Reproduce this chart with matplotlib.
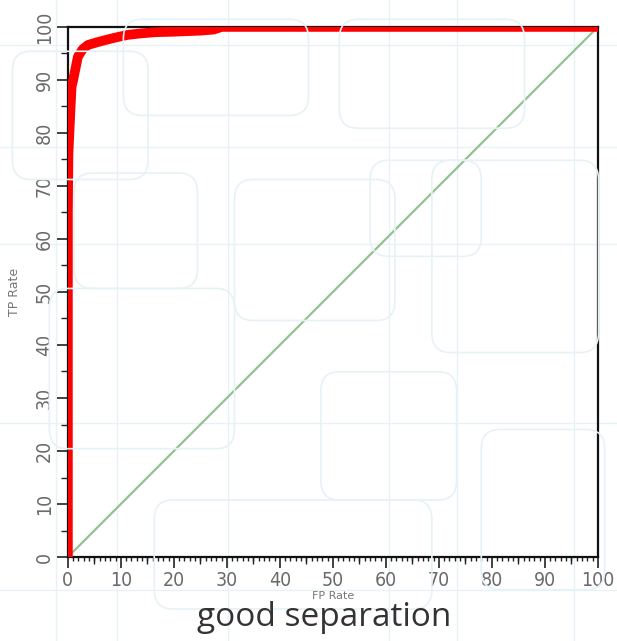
import matplotlib
matplotlib.use('Agg')
import matplotlib.pyplot as plt
from matplotlib.patches import FancyBboxPatch
from matplotlib.ticker import MultipleLocator

# ROC curve (percent)
fp_rate = [0, 0, 0.1, 0.4, 0.7, 1.0, 1.3, 1.9, 2.8, 3.8, 5.5, 7, 9, 11.3, 14, 16.4, 20, 25, 27.5, 29, 31, 100]
tp_rate = [0, 65, 76, 82.5, 88.7, 90, 91.5, 94.4, 95.8, 96.6, 97.1, 97.5, 98, 98.5, 98.8, 99, 99.1, 99.3, 99.5, 100, 100, 100]
chance = [0, 100]
ticks = list(range(0, 101, 10))

fig = plt.figure(figsize=(6.17, 6.41), dpi=100)
fig.patch.set_facecolor('white')

# faint slide background of rounded boxes
bg = '#e6f2f6'
boxes = [(0.02, 0.72, 0.22, 0.20), (0.20, 0.82, 0.30, 0.15), (0.55, 0.80, 0.30, 0.17),
         (0.38, 0.50, 0.26, 0.22), (0.70, 0.45, 0.27, 0.30), (0.08, 0.30, 0.30, 0.25),
         (0.52, 0.22, 0.22, 0.20), (0.25, 0.05, 0.45, 0.17), (0.78, 0.08, 0.20, 0.25),
         (0.12, 0.55, 0.20, 0.18), (0.60, 0.60, 0.18, 0.15)]
for (bx, by, bw, bh) in boxes:
    fig.patches.append(FancyBboxPatch((bx, by), bw, bh, boxstyle='round,pad=0,rounding_size=0.03',
                                      transform=fig.transFigure, fill=False, ec=bg, lw=1.2, zorder=0))
for vx in [0.09, 0.19, 0.37, 0.63, 0.74, 0.93]:
    fig.add_artist(plt.Line2D([vx, vx], [0, 1], transform=fig.transFigure, color=bg, lw=1, zorder=0))
for hy in [0.08, 0.34, 0.62, 0.77, 0.93]:
    fig.add_artist(plt.Line2D([0, 1], [hy, hy], transform=fig.transFigure, color=bg, lw=1, zorder=0))

ax = fig.add_axes([0.110, 0.131, 0.859, 0.827])
ax.patch.set_alpha(0)

ax.plot(chance, chance, color='#93c193', lw=1.6, zorder=2)
ax.plot(fp_rate, tp_rate, color='#ff0000', lw=7, solid_capstyle='round', solid_joinstyle='round', zorder=3)

ax.set_xlim(0, 100)
ax.set_ylim(0, 100)
ax.set_xticks(ticks)
ax.set_yticks(ticks)
ax.xaxis.set_minor_locator(MultipleLocator(1))
ax.yaxis.set_minor_locator(MultipleLocator(5))
ax.tick_params(which='major', length=8, width=1.2, color='#222', labelcolor='#6a6a6a', labelsize=14, pad=2)
ax.tick_params(which='minor', length=3, width=1, color='#222')
ax.tick_params(axis='y', which='minor', length=5)
for lab in ax.get_xticklabels() + ax.get_yticklabels():
    lab.set_fontstretch('condensed')
plt.setp(ax.get_yticklabels(), rotation=90, va='center')

# medium ticks every 5 on the x axis
sec = ax.secondary_xaxis('bottom')
sec.set_xticks([5, 15, 25, 35, 45, 55, 65, 75, 85, 95])
sec.tick_params(length=5, width=1, color='#222', labelbottom=False)
sec.spines['bottom'].set_visible(False)

for s in ax.spines.values():
    s.set_color('#111')
    s.set_linewidth(1.6)

ax.set_ylabel('TP Rate', color='#777', fontsize=9, labelpad=10)
ax.set_xlabel('FP Rate', color='#777', fontsize=8, labelpad=1)

fig.text(0.525, 0.036, 'good separation', ha='center', va='center', fontsize=24,
         family='Open Sans', color='#333')

fig.savefig('out.png', dpi=100)
